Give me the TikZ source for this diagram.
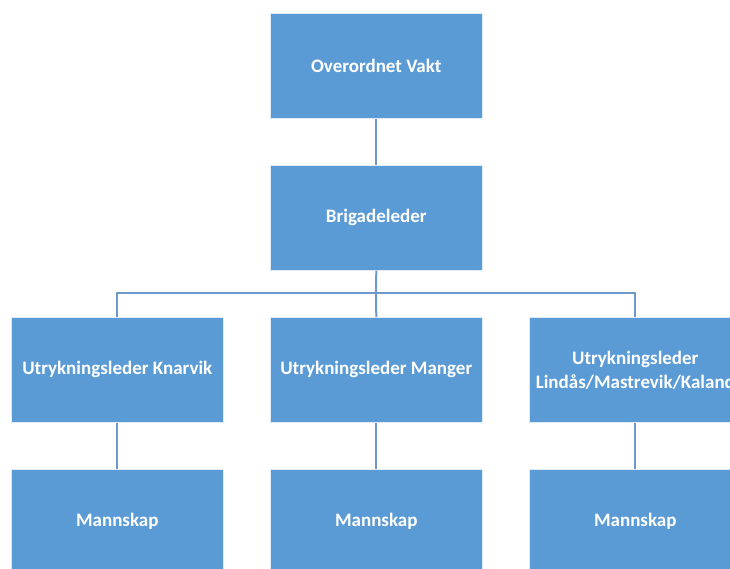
\documentclass[tikz,border=0pt]{standalone}
\usepackage{fontspec}
\setmainfont{Carlito}
\definecolor{boxblue}{HTML}{5B9BD5}
\definecolor{lineblue}{HTML}{6F98CB}
\begin{document}
\begin{tikzpicture}[x=1pt,y=-1pt,
  orgbox/.style={fill=boxblue,draw=white!80!boxblue,line width=0.6pt,minimum width=212pt,minimum height=105pt,inner sep=0pt,anchor=north west},
  lbl/.style={text=white,font=\bfseries\fontsize{19}{24}\selectfont,align=center,inner sep=0pt},
  link/.style={draw=lineblue,line width=2pt}]
\useasboundingbox (0,0) rectangle (730,569);
\clip (0,0) rectangle (730,569);
\node[orgbox] (top) at (270,13) {};
\node[lbl] at (top.center) (topt) {Overordnet Vakt};
\node[orgbox] (brig) at (270,165) {};
\node[lbl] at (brig.center) (brigt) {Brigadeleder};
\node[orgbox] (ul1) at (11,317) {};
\node[lbl] at (ul1.center) (ul1t) {Utrykningsleder Knarvik};
\node[orgbox] (ul2) at (270,317) {};
\node[lbl] at (ul2.center) (ul2t) {Utrykningsleder Manger};
\node[orgbox] (ul3) at (529,317) {};
\node[lbl] at (ul3.center) (ul3t) {Utrykningsleder\\Lindås/Mastrevik/Kaland};
\node[orgbox,minimum height=110pt] (m1) at (11,469) {};
\node[lbl] at ([yshift=-52pt]m1.north) (m1t) {Mannskap};
\node[orgbox,minimum height=110pt] (m2) at (270,469) {};
\node[lbl] at ([yshift=-52pt]m2.north) (m2t) {Mannskap};
\node[orgbox,minimum height=110pt] (m3) at (529,469) {};
\node[lbl] at ([yshift=-52pt]m3.north) (m3t) {Mannskap};
\coordinate (hb) at (376,293);
\draw[link] (top.south) -- (brig.north);
\draw[link] (brig.south) -- (hb);
\draw[link] (ul1.north) |- (hb) -| (ul3.north);
\draw[link] (hb) -- (ul2.north);
\draw[link] (ul1.south) -- (m1.north);
\draw[link] (ul2.south) -- (m2.north);
\draw[link] (ul3.south) -- (m3.north);
\end{tikzpicture}
\end{document}
